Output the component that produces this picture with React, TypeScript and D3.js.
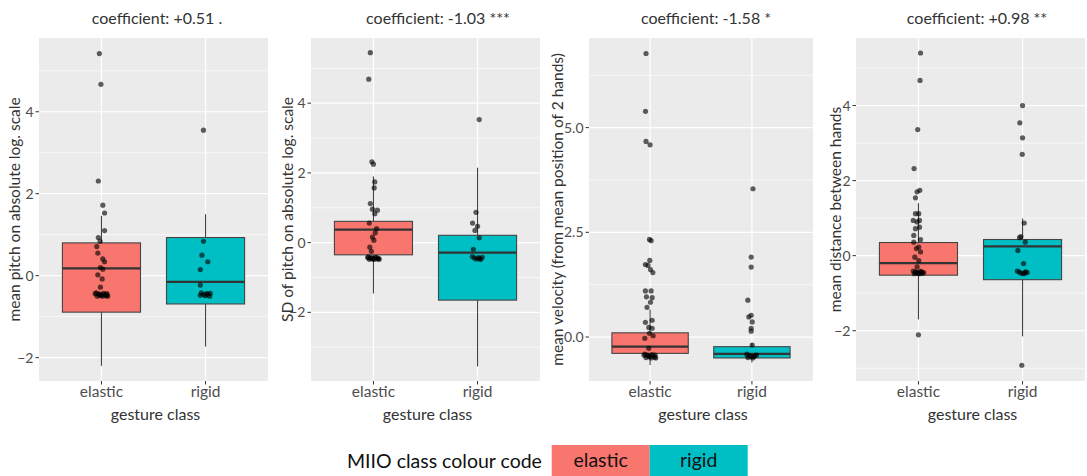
import * as d3 from "d3";

const categories = ["elastic", "rigid"];
const colours = ["#F8766D", "#00BFC4"];

const titles = [
  "coefficient: +0.51 .",
  "coefficient: -1.03 ***",
  "coefficient: -1.58 *",
  "coefficient: +0.98 **",
];
const yLabels = [
  "mean pitch on absolute log. scale",
  "SD of pitch on absolute log. scale",
  "mean velocity (from mean position of 2 hands)",
  "mean distance between hands",
];
const yDomains: [number, number][] = [
  [-2.57, 5.8],
  [-3.97, 5.87],
  [-1.05, 7.14],
  [-3.34, 5.8],
];
const yTicks = [
  [-2, 0, 2, 4],
  [-2, 0, 2, 4],
  [0, 2.5, 5],
  [-2, 0, 2, 4],
];
const yMinor = [
  [-1, 1, 3, 5],
  [-3, -1, 1, 3, 5],
  [1.25, 3.75, 6.25],
  [-3, -1, 1, 3, 5],
];
const tickFormats = ["d", "d", ".1f", "d"];

// [lower whisker, q1, median, q3, upper whisker] for elastic, rigid
const pitchBoxes = [
  [-2.2, -0.89, 0.18, 0.8, 1.46],
  [-1.73, -0.69, -0.15, 0.93, 1.5],
];
const sdPitchBoxes = [
  [-1.46, -0.35, 0.37, 0.61, 1.9],
  [-3.55, -1.65, -0.29, 0.21, 2.15],
];
const velocityBoxes = [
  [-0.67, -0.39, -0.23, 0.1, 0.66],
  [-0.61, -0.5, -0.4, -0.23, -0.15],
];
const distanceBoxes = [
  [-1.7, -0.52, -0.2, 0.35, 1.4],
  [-2.15, -0.64, 0.25, 0.43, 0.99],
];

// jittered observations: [value, jitter in category units]
const pitchElastic: [number, number][] = [
  [5.42, -0.02], [4.67, -0.005], [2.31, -0.03], [1.72, 0.013], [1.53, 0.03],
  [1.1, 0.03], [0.93, -0.03], [0.84, -0.013], [0.71, -0.045], [0.55, -0.035],
  [0.41, 0.013], [0.34, 0.03], [0.2, -0.01], [0.16, 0.013], [0.02, -0.035],
  [-0.08, 0.007], [-0.28, -0.01], [-0.42, -0.05], [-0.45, -0.03], [-0.48, -0.01],
  [-0.5, 0.01], [-0.46, 0.03], [-0.44, 0.05], [-0.5, -0.04], [-0.47, 0.0],
  [-0.43, 0.02], [-0.49, 0.04], [-0.45, -0.02], [-0.5, 0.06], [-0.44, -0.06],
  [-0.47, 0.055],
];
const pitchRigid: [number, number][] = [
  [3.55, -0.02], [0.84, -0.02], [0.5, -0.035], [0.34, 0.022], [0.15, -0.05],
  [-0.23, -0.05], [-0.42, -0.04], [-0.46, -0.02], [-0.49, 0.0], [-0.45, 0.02],
  [-0.5, 0.04], [-0.43, 0.045], [-0.48, -0.05], [-0.44, 0.01],
];
const sdPitchElastic: [number, number][] = [
  [5.45, -0.03], [4.69, -0.045], [2.32, -0.015], [2.25, 0.0], [1.74, 0.013],
  [1.57, 0.007], [1.12, -0.03], [0.96, -0.01], [0.93, 0.038], [0.83, 0.013],
  [0.56, -0.04], [0.4, 0.03], [0.28, 0.017], [0.16, -0.01], [0.07, 0.004],
  [-0.13, -0.035], [-0.25, -0.02], [-0.41, -0.05], [-0.44, -0.03], [-0.47, -0.01],
  [-0.48, 0.01], [-0.43, 0.03], [-0.45, 0.05], [-0.48, -0.04], [-0.46, 0.0],
  [-0.42, 0.02], [-0.47, 0.04], [-0.44, -0.02], [-0.48, 0.055], [-0.43, -0.055],
];
const sdPitchRigid: [number, number][] = [
  [3.53, 0.016], [0.87, -0.015], [0.56, -0.048], [0.47, 0.0], [0.35, -0.025],
  [0.14, 0.016], [-0.19, -0.04], [-0.4, -0.05], [-0.44, -0.03], [-0.47, -0.01],
  [-0.43, 0.01], [-0.48, 0.03], [-0.42, 0.045], [-0.46, 0.02],
];
const velocityElastic: [number, number][] = [
  [6.77, -0.04], [5.39, -0.045], [4.67, -0.04], [4.59, 0.0], [2.33, -0.006],
  [2.3, 0.01], [1.83, -0.003], [1.73, -0.046], [1.71, -0.02], [1.61, 0.004],
  [1.54, 0.027], [1.1, -0.046], [1.1, 0.01], [0.96, -0.036], [0.94, 0.02],
  [0.83, 0.004], [0.71, -0.03], [0.4, 0.02], [0.35, -0.046], [0.23, -0.013],
  [0.21, 0.02], [0.09, -0.006], [0.03, 0.03], [-0.03, -0.052], [-0.27, -0.013],
  [-0.41, -0.05], [-0.44, -0.03], [-0.47, -0.01], [-0.5, 0.01], [-0.45, 0.03],
  [-0.43, 0.05], [-0.49, -0.04], [-0.46, 0.0], [-0.42, 0.02], [-0.48, 0.045],
  [-0.44, -0.02], [-0.5, 0.055], [-0.43, -0.06],
];
const velocityRigid: [number, number][] = [
  [3.54, 0.01], [1.91, -0.007], [1.67, -0.007], [0.88, -0.04], [0.52, -0.007],
  [0.48, -0.03], [0.36, 0.003], [0.21, -0.007], [0.14, -0.007], [-0.19, 0.003],
  [-0.41, -0.05], [-0.44, -0.03], [-0.47, -0.01], [-0.5, 0.01], [-0.45, 0.03],
  [-0.43, 0.045], [-0.49, -0.04], [-0.46, 0.02],
];
const distanceElastic: [number, number][] = [
  [5.4, 0.02], [4.67, 0.015], [3.36, -0.007], [2.32, -0.042], [1.74, 0.013],
  [1.7, -0.013], [1.54, -0.029], [1.12, -0.029], [1.12, 0.003], [0.94, -0.05],
  [0.9, -0.013], [0.94, 0.01], [0.72, -0.029], [0.76, 0.01], [0.54, -0.045],
  [0.43, 0.02], [0.36, -0.045], [0.23, 0.003], [0.19, -0.02], [0.1, 0.02],
  [-0.04, -0.035], [-0.13, 0.003], [-0.3, -0.013], [-0.41, -0.05], [-0.44, -0.03],
  [-0.47, -0.01], [-0.48, 0.01], [-0.43, 0.03], [-0.45, 0.05], [-0.48, -0.04],
  [-0.46, 0.0], [-0.42, 0.02], [-0.47, 0.04], [-0.44, -0.02], [-2.11, 0.0],
];
const distanceRigid: [number, number][] = [
  [4.0, 0.0], [3.54, -0.026], [3.14, 0.0], [2.7, -0.003], [0.87, 0.016],
  [0.51, -0.016], [0.48, -0.029], [0.36, 0.026], [0.14, -0.045], [-0.21, 0.01],
  [-0.41, -0.05], [-0.44, -0.03], [-0.47, -0.01], [-0.48, 0.01], [-0.43, 0.03],
  [-0.45, 0.045], [-0.46, 0.02], [-2.92, -0.007],
];

const boxes = [pitchBoxes, sdPitchBoxes, velocityBoxes, distanceBoxes];
const points = [
  [pitchElastic, pitchRigid],
  [sdPitchElastic, sdPitchRigid],
  [velocityElastic, velocityRigid],
  [distanceElastic, distanceRigid],
];

// layout of each panel
const panels = [
  { left: 39, right: 268, titleX: 157, yTitleX: 20 },
  { left: 311, right: 540, titleX: 438, yTitleX: 293 },
  { left: 589, right: 813, titleX: 706, yTitleX: 563 },
  { left: 856, right: 1085, titleX: 977, yTitleX: 841 },
];
const top = 38;
const bottom = 381;
const font = "Lato, 'Open Sans', sans-serif";

function Panel({ i }: { i: number }) {
  const p = panels[i];
  const x = d3.scalePoint<string>().domain(categories).range([p.left, p.right]).padding(0.6);
  const y = d3.scaleLinear().domain(yDomains[i]).range([bottom, top]);
  const step = x.step();
  const bw = step * 0.75;
  const fmt = d3.format(tickFormats[i]);
  const cy = (top + bottom) / 2;
  const cx = (p.left + p.right) / 2;

  return (
    <g>
      <rect x={p.left} y={top} width={p.right - p.left} height={bottom - top} fill="#EBEBEB" />
      {yMinor[i].map((t) => (
        <line key={"m" + t} x1={p.left} x2={p.right} y1={y(t)} y2={y(t)} stroke="#fff" strokeWidth={0.6} />
      ))}
      {yTicks[i].map((t) => (
        <line key={"M" + t} x1={p.left} x2={p.right} y1={y(t)} y2={y(t)} stroke="#fff" strokeWidth={1.2} />
      ))}
      {categories.map((c) => (
        <line key={c} x1={x(c)} x2={x(c)} y1={top} y2={bottom} stroke="#fff" strokeWidth={1.2} />
      ))}
      {categories.map((c, k) => {
        const [lo, q1, med, q3, hi] = boxes[i][k];
        const xc = x(c)!;
        return (
          <g key={"b" + c}>
            <line x1={xc} x2={xc} y1={y(hi)} y2={y(q3)} stroke="#444" strokeWidth={1.1} />
            <line x1={xc} x2={xc} y1={y(q1)} y2={y(lo)} stroke="#444" strokeWidth={1.1} />
            <rect x={xc - bw / 2} y={y(q3)} width={bw} height={y(q1) - y(q3)} fill={colours[k]} stroke="#444" strokeWidth={1.1} />
            <line x1={xc - bw / 2} x2={xc + bw / 2} y1={y(med)} y2={y(med)} stroke="#333" strokeWidth={2.2} />
          </g>
        );
      })}
      {categories.map((c, k) =>
        points[i][k].map(([v, dx], j) => (
          <circle key={c + j} cx={x(c)! + dx * step} cy={y(v)} r={2.6} fill="#000" fillOpacity={0.62} />
        ))
      )}
      {yTicks[i].map((t) => (
        <g key={"t" + t}>
          <line x1={p.left - 3.5} x2={p.left} y1={y(t)} y2={y(t)} stroke="#333" strokeWidth={1} />
          <text x={p.left - 5.5} y={y(t)} dy="0.36em" textAnchor="end" fontSize={14} fill="#4D4D4D" fontFamily={font}>
            {fmt(t)}
          </text>
        </g>
      ))}
      {categories.map((c) => (
        <g key={"x" + c}>
          <line x1={x(c)} x2={x(c)} y1={bottom} y2={bottom + 3.5} stroke="#333" strokeWidth={1} />
          <text x={x(c)} y={397} textAnchor="middle" fontSize={15.5} fill="#4D4D4D" fontFamily={font}>
            {c}
          </text>
        </g>
      ))}
      <text x={cx + 2} y={420} textAnchor="middle" fontSize={16} fill="#333" fontFamily={font}>
        gesture class
      </text>
      <text transform={`translate(${p.yTitleX},${cy}) rotate(-90)`} textAnchor="middle" fontSize={15.5} fill="#333" fontFamily={font}>
        {yLabels[i]}
      </text>
      <text x={p.titleX} y={24} textAnchor="middle" fontSize={16} fill="#333" fontFamily={font}>
        {titles[i]}
      </text>
    </g>
  );
}

export default function App() {
  const legend = d3.scaleBand<string>().domain(categories).range([551.7, 747.7]);
  return (
    <svg width={1087} height={476} style={{ position: "absolute", left: 0, top: 0, background: "#fff" }}>
      {panels.map((_, i) => (
        <Panel key={i} i={i} />
      ))}
      <text x={347} y={468} fontSize={19.5} fill="#111" fontFamily={font}>
        MIIO class colour code
      </text>
      {categories.map((c, k) => (
        <g key={"l" + c}>
          <rect x={legend(c)} y={445} width={legend.bandwidth()} height={31} fill={colours[k]} />
          <text x={legend(c)! + legend.bandwidth() / 2} y={467} textAnchor="middle" fontSize={19.5} fill="#111" fontFamily={font}>
            {c}
          </text>
        </g>
      ))}
    </svg>
  );
}
